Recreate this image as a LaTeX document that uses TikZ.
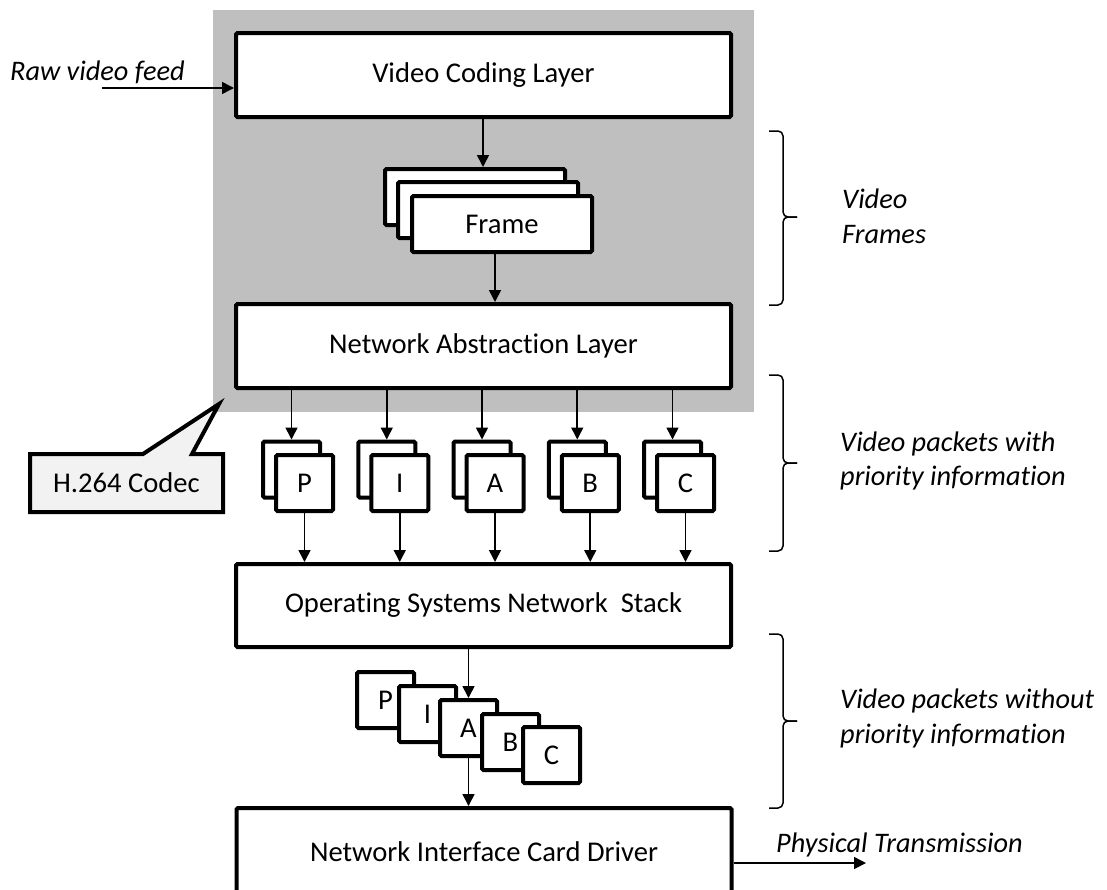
\documentclass[tikz,border=0pt]{standalone}
\usepackage{fontspec}
\setmainfont{Carlito}[Ligatures={NoCommon}]
\usetikzlibrary{arrows.meta,calc}
\definecolor{panelgray}{RGB}{191,191,191}
\definecolor{calloutfill}{RGB}{242,242,242}
\begin{document}
\begin{tikzpicture}[x=1pt,y=-1pt,
  txt/.style={font=\fontsize{28.6}{34}\selectfont},
  layer/.style={draw, line width=4pt, fill=white, rounded corners=1.5pt,
    minimum width=495pt, minimum height=84pt, inner sep=0pt, txt},
  pkt/.style={draw, line width=4pt, fill=white, rounded corners=1.5pt,
    minimum width=57pt, minimum height=56pt, inner sep=0pt, txt},
  framebox/.style={pkt, minimum width=180pt},
  arr/.style={line width=1.6pt, -{Triangle[length=12pt,width=12pt]}},
  brace/.style={line width=1.5pt, rounded corners=5pt},
  lbl/.style={font=\fontsize{28.3}{34}\selectfont\itshape, anchor=base west, inner sep=0pt}
]
\useasboundingbox (0,0) rectangle (1107,889);

% codec panel
\fill[panelgray] (213,10) rectangle (754,412);

% layers
\node[layer] (vcl) at (483.5,75) {Video Coding Layer};
\node[layer] (nal) at (483.5,346) {Network Abstraction Layer};
\node[layer, minimum height=83pt] (os) at (483.5,605.5) {Operating Systems Network\ \ Stack};
\node[layer, minimum height=88pt] (nic) at (484,852) {Network Interface Card Driver};

% stacked frames
\node[framebox] (fb) at (475,197) {};
\node[framebox] (fm) at (488,210) {};
\node[framebox] (ff) at (502,224) {Frame};

% packets with priority information
\foreach \l [count=\i from 0] in {P,I,A,B,C} {
  \pgfmathsetmacro\bx{291.5+95.25*\i}
  \node[pkt] (pb\l) at (\bx,469.5) {};
  \node[pkt] (pf\l) at (\bx+13,483) {\l};
}

% packets without priority information
\node[pkt] (sP) at (385.5,700) {P};
\node[pkt] (sI) at (427.5,714) {I};
\node[pkt] (sA) at (468.5,728) {A};
\node[pkt] (sB) at (510.5,742) {B};
\node[pkt] (sC) at (551.5,755) {C};

% connectors
\draw[arr] ([xshift=-0.5pt]vcl.south) -- ([xshift=-0.5pt]vcl.south |- fb.north);
\draw[arr] ([xshift=-7pt]ff.south) -- ([xshift=-7pt]ff.south |- nal.north);
\foreach \l in {P,I,A,B,C} {
  \draw[arr] (nal.south -| pb\l.north) -- (pb\l.north);
  \draw[arr] (pf\l.south) -- (pf\l.south |- os.north);
}
\draw[arr] (os.south -| sA.north) -- (sA.north);
\draw[arr] (sA.south) -- (sA.south |- nic.north);

% input and output
\node[lbl] (rawlbl) at (10,80) {Raw video feed};
\coordinate (rawstart) at (102,88);
\draw[arr] (rawstart) -- (rawstart -| vcl.west);
\node[lbl] (physlbl) at (776,852) {Physical Transmission};
\coordinate (physend) at (866,863);
\draw[arr] (nic.east |- physend) -- (physend);

% callout
\filldraw[fill=calloutfill, line width=4pt]
  (30,454) -- (143,454) -- (219,404) -- (192,454) -- (223,454)
  -- (223,512) -- (30,512) -- cycle;
\node[txt] (codec) at (126.5,483) {H.264 Codec};

% braces
\foreach \t/\m/\b in {131/217/305, 375/463/551, 634/721/808} {
  \draw[brace] (769,\t) -- (783,\t) -- (783,\m) -- (797,\m);
  \draw[brace] (797,\m) -- (783,\m) -- (783,\b) -- (769,\b);
}

% brace labels
\node[lbl] (vf1) at (842,208) {Video};
\node[lbl] (vf2) at (842,243) {Frames};
\node[lbl] (pw1) at (840,451) {Video packets with};
\node[lbl] (pw2) at (840,485) {priority information};
\node[lbl] (po1) at (840,708) {Video packets without};
\node[lbl] (po2) at (840,743) {priority information};
\end{tikzpicture}
\end{document}
